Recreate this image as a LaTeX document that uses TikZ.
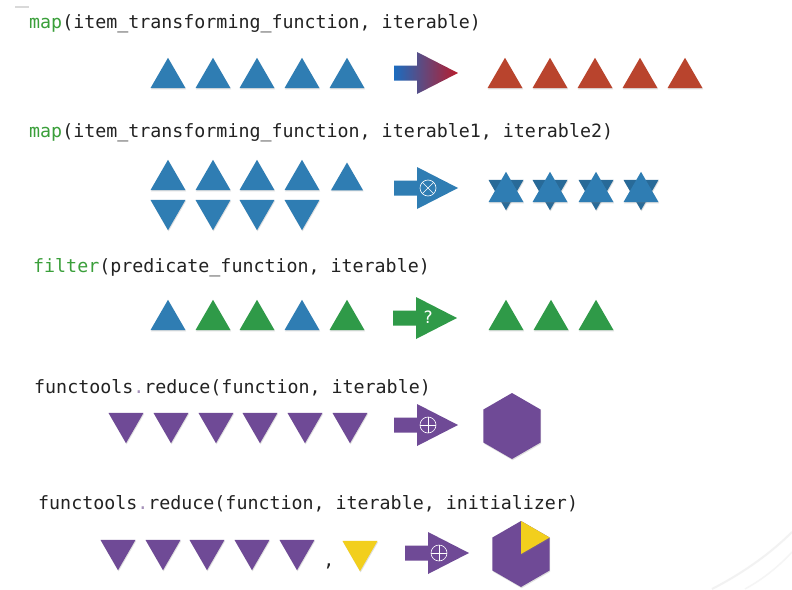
\documentclass[tikz,border=0pt]{standalone}
\usepackage{fontspec}
\setmonofont{DejaVu Sans Mono}
\usetikzlibrary{shapes,shadows,calc}

\definecolor{codegray}{RGB}{34,34,34}
\definecolor{kwgreen}{RGB}{58,159,58}
\definecolor{dotpurple}{RGB}{165,145,185}
\definecolor{mapblue}{RGB}{47,125,179}
\definecolor{mapred}{RGB}{185,68,45}
\definecolor{filtgreen}{RGB}{47,154,72}
\definecolor{redpurple}{RGB}{111,74,150}
\definecolor{inityellow}{RGB}{242,207,29}
\definecolor{arrowblue}{RGB}{28,108,191}
\definecolor{arrowred}{RGB}{184,28,44}

\begin{document}
\begin{tikzpicture}[x=1pt,y=-1pt,
    code/.style={font=\fontsize{18.3}{20}\selectfont\ttfamily, text=codegray, inner sep=0pt, anchor=base west},
    shad/.style={drop shadow={opacity=0.25, shadow xshift=0.6pt, shadow yshift=-1.2pt}},
    tri/.style={regular polygon, regular polygon sides=3, minimum size=40.4pt, inner sep=0pt, shad},
    triup/.style={tri},
    tridown/.style={tri, shape border rotate=180},
    hexa/.style={regular polygon, regular polygon sides=6, shape border rotate=30, minimum size=66pt, inner sep=0pt, shad},
    fatarrow/.pic={\path[pic actions] (0,-7.5) -- (23,-7.5) -- (23,-21) -- (64,0) -- (23,21) -- (23,7.5) -- (0,7.5) -- cycle;},
    oper/.style={draw=white, line width=0.6pt}]

    \useasboundingbox[fill=white] (0,0) rectangle (792,589);

    % slide leftovers
    \draw[gray!30, line width=1.2pt] (15,7) -- (29,7);
    \draw[gray!10, line width=2pt] (712,589) .. controls (745,572) and (772,552) .. (792,532);
    \draw[gray!8, line width=1.5pt] (745,589) .. controls (765,578) and (780,565) .. (792,552);

    % map, one iterable
    \node[code] (lmap1) at (29,28) {\textcolor{kwgreen}{map}(item\_transforming\_function, iterable)};
    \foreach \x [count=\i] in {168,213,257,302,347}
        \node[triup, fill=mapblue] (in1-\i) at (\x,78) {};
    \pic[left color=arrowblue, right color=arrowred, shad] at (394,73) {fatarrow};
    \foreach \x [count=\i] in {505,550,595,640,685}
        \node[triup, fill=mapred] (out1-\i) at (\x,78) {};

    % map, two iterables
    \node[code] (lmap2) at (29,137) {\textcolor{kwgreen}{map}(item\_transforming\_function, iterable1, iterable2)};
    \foreach \x [count=\i] in {168,213,257,302}
        \node[tridown, fill=mapblue] (inb2-\i) at (\x,210) {};
    \foreach \x [count=\i] in {168,213,257,302}
        \node[triup, fill=mapblue] (ina2-\i) at (\x,180) {};
    \node[triup, fill=mapblue, minimum size=37pt] (ina2-5) at (347,181) {};
    \pic[fill=mapblue, shad] at (394,188) {fatarrow};
    \coordinate (o2) at (428,188);
    \draw[oper] (o2) circle (8);
    \draw[oper] ($(o2)+(-5.66,-5.66)$) -- ($(o2)+(5.66,5.66)$);
    \draw[oper] ($(o2)+(-5.66,5.66)$) -- ($(o2)+(5.66,-5.66)$);
    \foreach \x [count=\i] in {506,550,596,641} {
        \node[tridown, fill=mapblue!85!black] (sd-\i) at (\x,190) {};
        \node[triup, fill=mapblue] (su-\i) at (\x,192) {};
    }

    % filter
    \node[code] (lfilter) at (33,272) {\textcolor{kwgreen}{filter}(predicate\_function, iterable)};
    \foreach \x/\c [count=\i] in {168/mapblue,213/filtgreen,257/filtgreen,302/mapblue,347/filtgreen}
        \node[triup, fill=\c] (in3-\i) at (\x,320) {};
    \pic[fill=filtgreen, shad] at (393,318) {fatarrow};
    \node[font=\fontsize{17}{17}\selectfont\ttfamily, text=white, inner sep=0pt] (q) at (428,317) {?};
    \foreach \x [count=\i] in {506,551,596}
        \node[triup, fill=filtgreen] (out3-\i) at (\x,320) {};

    % reduce
    \node[code] (lreduce1) at (34,393) {functools\textcolor{dotpurple}{.}reduce(function, iterable)};
    \foreach \x [count=\i] in {126,171,216,260,305,350}
        \node[tridown, fill=redpurple] (in4-\i) at (\x,423) {};
    \pic[fill=redpurple, shad] at (394,425) {fatarrow};
    \coordinate (o4) at (428,425);
    \draw[oper] (o4) circle (8);
    \draw[oper] ($(o4)+(-8,0)$) -- ($(o4)+(8,0)$);
    \draw[oper] ($(o4)+(0,-8)$) -- ($(o4)+(0,8)$);
    \node[hexa, fill=redpurple] (hex1) at (512,426) {};

    % reduce with initializer
    \node[code] (lreduce2) at (38,509) {functools\textcolor{dotpurple}{.}reduce(function, iterable, initializer)};
    \foreach \x [count=\i] in {118,163,207,252,297}
        \node[tridown, fill=redpurple] (in5-\i) at (\x,550) {};
    \node[code, anchor=base] (comma) at (329,566) {,};
    \node[tridown, fill=inityellow] (init) at (360,551) {};
    \pic[fill=redpurple, shad] at (405,553) {fatarrow};
    \coordinate (o5) at (439,553);
    \draw[oper] (o5) circle (8);
    \draw[oper] ($(o5)+(-8,0)$) -- ($(o5)+(8,0)$);
    \draw[oper] ($(o5)+(0,-8)$) -- ($(o5)+(0,8)$);
    \node[hexa, fill=redpurple] (hex2) at (521,554) {};
    \fill[inityellow, shad] (hex2.center) -- ($(hex2.center)+(0,-33)$) -- ($(hex2.center)+(28.6,-16.5)$) -- cycle;
\end{tikzpicture}
\end{document}
